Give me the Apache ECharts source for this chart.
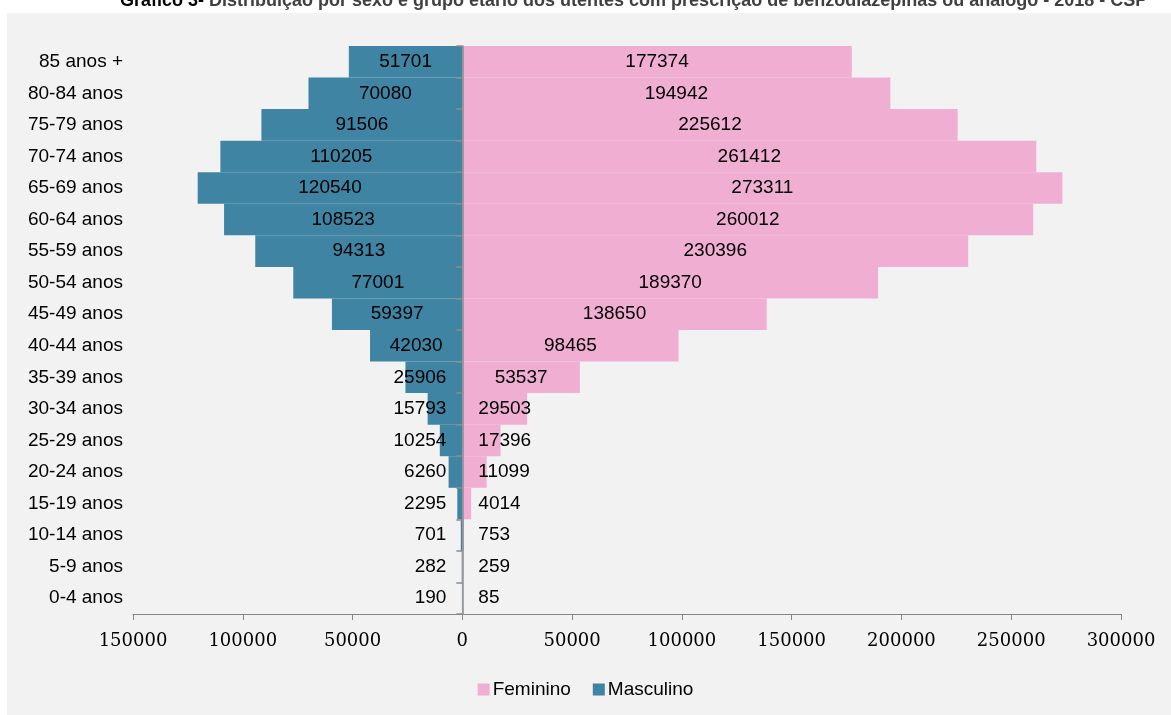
<!DOCTYPE html>
<html>
<head>
<meta charset="utf-8">
<script src="https://cdn.jsdelivr.net/npm/echarts@6/dist/echarts.min.js"></script>
<style>
html,body{margin:0;padding:0;background:#ffffff;}
#chart{width:1171px;height:715px;}
</style>
</head>
<body>
<div id="chart"></div>
<script>
// Age groups (bottom to top as drawn by the category axis)
var categories = ['0-4 anos','5-9 anos','10-14 anos','15-19 anos','20-24 anos','25-29 anos','30-34 anos','35-39 anos','40-44 anos','45-49 anos','50-54 anos','55-59 anos','60-64 anos','65-69 anos','70-74 anos','75-79 anos','80-84 anos','85 anos +'];
var feminino = [85, 259, 753, 4014, 11099, 17396, 29503, 53537, 98465, 138650, 189370, 230396, 260012, 273311, 261412, 225612, 194942, 177374];
var masculino = [190, 282, 701, 2295, 6260, 10254, 15793, 25906, 42030, 59397, 77001, 94313, 108523, 120540, 110205, 91506, 70080, 51701];
var xTicks = [-150000, 300000, 50000]; // min, max, interval
var titleBold = 'Gráfico 3-';
var titleRest = ' Distribuição por sexo e grupo etário dos utentes com prescrição de benzodiazepinas ou análogo - 2018 - CSP';

var labelFont = '"Liberation Sans", Arial, sans-serif';
var centerThreshold = 38000;

function femData() {
  return feminino.map(function (v) {
    var item = { value: v };
    if (v < centerThreshold) item.label = { position: 'insideLeft', distance: 16 };
    return item;
  });
}
function mascData() {
  return masculino.map(function (v) {
    var item = { value: -v };
    if (v < centerThreshold) item.label = { position: 'insideRight', distance: 16 };
    return item;
  });
}

var chart = echarts.init(document.getElementById('chart'), null, { renderer: 'canvas' });
var option = {
  backgroundColor: '#ffffff',
  animation: false,
  graphic: [{
    type: 'rect', z: -10, silent: true,
    shape: { x: 7, y: 13, width: 1164, height: 702 },
    style: { fill: '#f2f2f2' }
  }],
  title: {
    text: '{a|' + titleBold + '}{b|' + titleRest + '}',
    left: 120,
    top: -8,
    padding: 0,
    textStyle: {
      rich: {
        a: { fontFamily: labelFont, fontWeight: 'bold', fontSize: 18, color: '#000000' },
        b: { fontFamily: labelFont, fontWeight: 'bold', fontSize: 18, color: '#404040' }
      }
    }
  },
  legend: {
    data: ['Feminino', 'Masculino'],
    bottom: 11,
    left: 'center',
    icon: 'rect',
    itemWidth: 12,
    itemHeight: 12,
    itemGap: 22,
    textStyle: { fontFamily: labelFont, fontSize: 19, color: '#000000', padding: [0, 0, 0, -2] }
  },
  grid: { left: 133, right: 50, top: 46, bottom: 101, containLabel: false },
  xAxis: {
    type: 'value',
    min: xTicks[0], max: xTicks[1], interval: xTicks[2],
    splitLine: { show: false },
    axisLine: { show: true, lineStyle: { color: '#868686', width: 1 } },
    axisTick: { show: true, length: 6, lineStyle: { color: '#868686' } },
    axisLabel: {
      margin: 18,
      fontFamily: '"DejaVu Serif", "Liberation Serif", serif',
      fontSize: 18,
      color: '#000000',
      formatter: function (v) { return String(Math.abs(v)); }
    }
  },
  yAxis: [{
    type: 'category',
    data: categories,
    position: 'left',
    axisLine: { show: false, onZero: false },
    axisTick: { show: false },
    axisLabel: { margin: 10, fontFamily: labelFont, fontSize: 19, color: '#000000' }
  }, {
    type: 'category',
    data: categories,
    position: 'left',
    z: 10,
    axisLine: { show: true, onZero: true, lineStyle: { color: '#8c8c8c', width: 1.5 } },
    axisTick: { show: true, inside: false, length: 6, lineStyle: { color: '#8c8c8c', width: 1.5 } },
    axisLabel: { show: false }
  }],
  series: [{
    name: 'Feminino',
    type: 'bar',
    yAxisIndex: 0,
    data: femData(),
    barWidth: '100%',
    barGap: '-100%',
    itemStyle: { color: '#f0aed3' },
    label: {
      show: true, position: 'inside',
      fontFamily: labelFont, fontSize: 19, color: '#000000',
      textBorderWidth: 0
    }
  }, {
    name: 'Masculino',
    type: 'bar',
    yAxisIndex: 0,
    data: mascData(),
    barWidth: '100%',
    barGap: '-100%',
    itemStyle: { color: '#3f84a2' },
    label: {
      show: true, position: 'inside',
      fontFamily: labelFont, fontSize: 19, color: '#000000',
      textBorderWidth: 0,
      formatter: function (p) { return String(Math.abs(p.value)); }
    }
  }]
};
chart.setOption(option);
</script>
</body>
</html>
